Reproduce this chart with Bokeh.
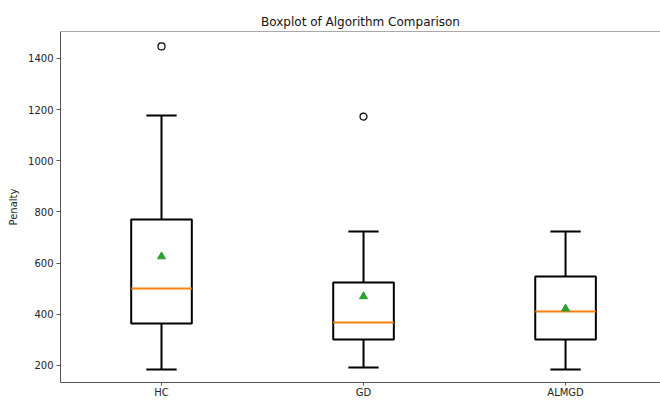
from bokeh.plotting import figure
from bokeh.models import FixedTicker, Span, Range1d
from bokeh.embed import file_html
from bokeh.resources import INLINE
import numpy as np

# ---- data ----
categories = ["HC", "GD", "ALMGD"]
positions = [1, 2, 3]
lower_whisker = [184, 192, 184]
q1 = [364, 302, 302]
median = [501, 368, 411]
q3 = [771, 524, 548]
upper_whisker = [1177, 724, 724]
means = [626, 470, 422]
outlier_pos = [1, 2]
outlier_val = [1447, 1173]
y_ticks = [200, 400, 600, 800, 1000, 1200, 1400]

box_width = 0.3
cap_width = 0.15
FONT = "DejaVu Sans"
SPINE = "#555555"

p = figure(width=660, height=400, output_backend="svg", toolbar_location=None,
           x_range=Range1d(0.5, 3.47), y_range=Range1d(133.5, 1505.5),
           title="Boxplot of Algorithm Comparison",
           min_border_left=60, min_border_right=0, min_border_top=31, min_border_bottom=0)
p.outline_line_color = None
p.grid.visible = False
p.background_fill_color = "white"
p.border_fill_color = "white"

p.title.align = "center"
p.title.text_font = FONT
p.title.text_font_size = "12px"
p.title.text_font_style = "normal"
p.title.text_color = "#111111"
p.title.standoff = 6

x = np.array(positions, dtype=float)

# whiskers
p.segment(x0=x, y0=q3, x1=x, y1=upper_whisker, line_color="black", line_width=2)
p.segment(x0=x, y0=q1, x1=x, y1=lower_whisker, line_color="black", line_width=2)
# caps
p.segment(x0=x - cap_width / 2, y0=upper_whisker, x1=x + cap_width / 2, y1=upper_whisker,
          line_color="black", line_width=2)
p.segment(x0=x - cap_width / 2, y0=lower_whisker, x1=x + cap_width / 2, y1=lower_whisker,
          line_color="black", line_width=2)
# boxes
p.vbar(x=x, width=box_width, bottom=q1, top=q3, fill_color=None,
       line_color="black", line_width=2)
# medians
p.segment(x0=x - box_width / 2, y0=median, x1=x + box_width / 2, y1=median,
          line_color="#ff7f0e", line_width=2)
# outliers
p.scatter(x=outlier_pos, y=outlier_val, marker="circle", size=7,
          fill_color=None, line_color="black", line_width=1.2)
# means
p.scatter(x=x, y=means, marker="triangle", size=8,
          fill_color="#2ca02c", line_color="#2ca02c")

# top spine
p.add_layout(Span(location=1505.5, dimension="width", line_color=SPINE, line_width=1))

# axes
p.yaxis.ticker = FixedTicker(ticks=y_ticks)
p.xaxis.ticker = FixedTicker(ticks=positions)
p.xaxis.major_label_overrides = {pos: lab for pos, lab in zip(positions, categories)}
p.yaxis.axis_label = "Penalty"
for ax in (p.xaxis[0], p.yaxis[0]):
    ax.axis_line_color = SPINE
    ax.major_tick_line_color = SPINE
    ax.minor_tick_line_color = None
    ax.major_tick_out = 4
    ax.major_tick_in = 0
    ax.major_label_standoff = 3
    ax.major_label_text_font = FONT
    ax.major_label_text_font_size = "10px"
    ax.major_label_text_color = "#222222"
p.xaxis.major_label_standoff = 1
p.xaxis.major_tick_out = 3
p.yaxis.axis_label_text_font = FONT
p.yaxis.axis_label_text_font_size = "10px"
p.yaxis.axis_label_text_font_style = "normal"
p.yaxis.axis_label_text_color = "#222222"
p.yaxis.axis_label_standoff = 6

open("out.html", "w").write(file_html(p, INLINE))
